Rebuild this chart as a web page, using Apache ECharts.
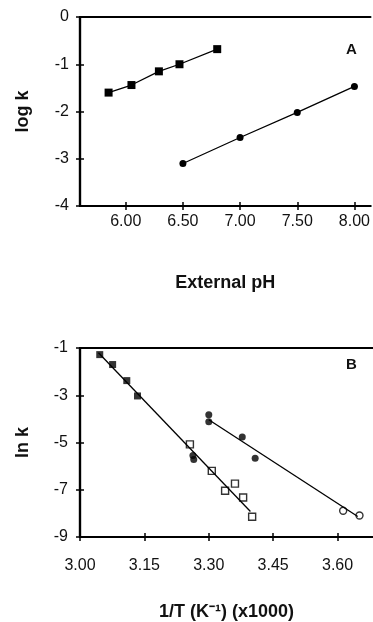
<!DOCTYPE html>
<html><head><meta charset="utf-8">
<script src="https://cdn.jsdelivr.net/npm/echarts@6/dist/echarts.min.js"></script>
<style>html,body{margin:0;padding:0;background:#fff}#c{width:373px;height:622px}</style>
</head><body><div id="c"></div>
<script>
// Panel A: log k vs external pH
const aXTicks = [6.00, 6.50, 7.00, 7.50, 8.00];
const aYTicks = [-4, -3, -2, -1, 0];
const aSquaresX = [5.85, 6.05, 6.29, 6.47, 6.80];
const aSquaresY = [-1.60, -1.44, -1.15, -1.00, -0.68];
const aCirclesX = [6.50, 7.00, 7.50, 8.00];
const aCirclesY = [-3.10, -2.55, -2.02, -1.47];

// Panel B: ln k vs 1/T
const bXTicks = [3.00, 3.15, 3.30, 3.45, 3.60];
const bYTicks = [-9, -7, -5, -3, -1];
const bFilledSqX = [3.046, 3.076, 3.109, 3.134];
const bFilledSqY = [-1.28, -1.70, -2.38, -3.03];
const bFilledCirc1X = [3.263, 3.265];
const bFilledCirc1Y = [-5.55, -5.72];
const bOpenSqX = [3.256, 3.307, 3.338, 3.361, 3.380, 3.401];
const bOpenSqY = [-5.08, -6.20, -7.04, -6.74, -7.33, -8.14];
const bFilledCirc2X = [3.300, 3.300, 3.378, 3.408];
const bFilledCirc2Y = [-3.83, -4.12, -4.77, -5.67];
const bOpenCircX = [3.613, 3.651];
const bOpenCircY = [-7.89, -8.09];
const bFit1X = [3.043, 3.397];
const bFit1Y = [-1.20, -7.92];
const bFit2X = [3.300, 3.647];
const bFit2Y = [-4.04, -8.13];

const zip = (xs, ys) => xs.map((x, i) => [x, ys[i]]);
const FONT = '"Liberation Sans Narrow", "Arial Narrow", "Liberation Sans", Arial, sans-serif';
const NFONT = '"Liberation Sans", Arial, sans-serif';
const labelStyle = {color: '#111', fontSize: 16, fontFamily: FONT};
const nameStyle = {color: '#111', fontSize: 18, fontWeight: 'bold', fontFamily: NFONT};

function xAx(grid, min, max, ticks, fmt, margin, name, gap, inside) {
  return {
    type: 'value', gridIndex: grid, min, max, position: 'bottom',
    name: inside ? '' : name, nameLocation: 'middle', nameGap: gap, nameTextStyle: nameStyle,
    axisLine: {show: true, onZero: false, lineStyle: {color: '#000', width: 2.2}},
    axisTick: {show: true, inside: inside, length: 4, customValues: ticks, lineStyle: {color: '#000', width: 1.5}},
    axisLabel: {show: !inside, customValues: ticks, formatter: fmt, margin, ...labelStyle},
    splitLine: {show: false}
  };
}
function topAx(grid, min, max) {
  return {
    type: 'value', gridIndex: grid, min, max, position: 'top',
    axisLine: {show: true, onZero: false, lineStyle: {color: '#000', width: 2.2}},
    axisTick: {show: false}, axisLabel: {show: false}, splitLine: {show: false}
  };
}
function yAx(grid, min, max, ticks, margin, name, gap, inside) {
  return {
    type: 'value', gridIndex: grid, min, max, position: 'left',
    name: inside ? '' : name, nameLocation: 'middle', nameGap: gap, nameRotate: 90, nameTextStyle: nameStyle,
    axisLine: {show: true, onZero: false, lineStyle: {color: '#000', width: 2.2}},
    axisTick: {show: true, inside: inside, length: 4, customValues: ticks, lineStyle: {color: '#000', width: 1.5}},
    axisLabel: {show: !inside, customValues: ticks, margin, ...labelStyle},
    splitLine: {show: false}
  };
}
const f2 = v => v.toFixed(2);

const chart = echarts.init(document.getElementById('c'), null, {renderer: 'canvas'});
chart.setOption({
  animation: false,
  backgroundColor: '#fff',
  grid: [
    {left: 80, top: 17, right: 0, height: 189},
    {left: 80, top: 348, right: 0, height: 191}
  ],
  xAxis: [
    xAx(0, 5.6, 8.14, aXTicks, f2, 8, 'External pH', 68, false),
    xAx(0, 5.6, 8.14, aXTicks, f2, 8, '', 0, true),
    topAx(0, 5.6, 8.14),
    xAx(1, 3.0, 3.6825, bXTicks, f2, 21, '1/T (K\u207B\u00B9) (x1000)', 66, false),
    xAx(1, 3.0, 3.6825, bXTicks, f2, 21, '', 0, true),
    topAx(1, 3.0, 3.6825)
  ],
  yAxis: [
    yAx(0, -4, 0, aYTicks, 11, 'log k', 48, false),
    yAx(0, -4, 0, aYTicks, 11, '', 0, true),
    yAx(1, -9, -1, bYTicks, 12, 'ln k', 48, false),
    yAx(1, -9, -1, bYTicks, 12, '', 0, true)
  ],
  series: [
    {type: 'line', xAxisIndex: 0, yAxisIndex: 0, data: zip(aSquaresX, aSquaresY),
     symbol: 'rect', symbolSize: 8, itemStyle: {color: '#000'}, lineStyle: {color: '#000', width: 1.3}},
    {type: 'line', xAxisIndex: 0, yAxisIndex: 0, data: zip(aCirclesX, aCirclesY),
     symbol: 'circle', symbolSize: 7, itemStyle: {color: '#000'}, lineStyle: {color: '#000', width: 1.3}},
    {type: 'line', xAxisIndex: 3, yAxisIndex: 2, data: zip(bFit1X, bFit1Y), showSymbol: false, symbol: 'none',
     lineStyle: {color: '#000', width: 1.3}},
    {type: 'line', xAxisIndex: 3, yAxisIndex: 2, data: zip(bFit2X, bFit2Y), showSymbol: false, symbol: 'none',
     lineStyle: {color: '#000', width: 1.3}},
    {type: 'scatter', xAxisIndex: 3, yAxisIndex: 2, data: zip(bFilledSqX, bFilledSqY),
     symbol: 'rect', symbolSize: 7, itemStyle: {color: '#000'}},
    {type: 'scatter', xAxisIndex: 3, yAxisIndex: 2, data: zip(bFilledCirc1X, bFilledCirc1Y),
     symbol: 'circle', symbolSize: 7, itemStyle: {color: '#000'}},
    {type: 'scatter', xAxisIndex: 3, yAxisIndex: 2, data: zip(bOpenSqX, bOpenSqY),
     symbol: 'rect', symbolSize: 7, itemStyle: {color: '#fff', borderColor: '#000', borderWidth: 1.4}},
    {type: 'scatter', xAxisIndex: 3, yAxisIndex: 2, data: zip(bFilledCirc2X, bFilledCirc2Y),
     symbol: 'circle', symbolSize: 7, itemStyle: {color: '#000'}},
    {type: 'scatter', xAxisIndex: 3, yAxisIndex: 2, data: zip(bOpenCircX, bOpenCircY),
     symbol: 'circle', symbolSize: 7, itemStyle: {color: '#fff', borderColor: '#000', borderWidth: 1.4}}
  ],
  graphic: [
    {type: 'text', left: 346, top: 42, style: {text: 'A', fill: '#111', font: 'bold 15px ' + NFONT}},
    {type: 'text', left: 346, top: 357, style: {text: 'B', fill: '#111', font: 'bold 15px ' + NFONT}}
  ]
});
</script></body></html>
